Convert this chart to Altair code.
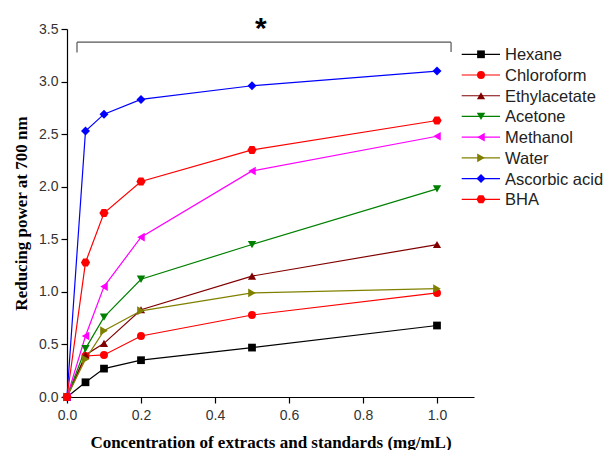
import altair as alt
import pandas as pd

conc = [0, 0.05, 0.1, 0.2, 0.5, 1.0]
names = ["Hexane", "Chloroform", "Ethylacetate", "Acetone", "Methanol", "Water", "Ascorbic acid", "BHA"]
hexane = [0, 0.14, 0.27, 0.35, 0.47, 0.68]
chloroform = [0, 0.39, 0.40, 0.58, 0.78, 0.99]
ethylacetate = [0, 0.40, 0.51, 0.83, 1.15, 1.45]
acetone = [0, 0.46, 0.76, 1.12, 1.45, 1.98]
methanol = [0, 0.58, 1.05, 1.52, 2.15, 2.48]
water = [0, 0.36, 0.63, 0.82, 0.99, 1.03]
ascorbic = [0, 2.53, 2.69, 2.83, 2.96, 3.10]
bha = [0, 1.28, 1.75, 2.05, 2.35, 2.63]
series = [hexane, chloroform, ethylacetate, acetone, methanol, water, ascorbic, bha]

colors = ["#000000", "#FF0000", "#800000", "#008000", "#FF00FF", "#808000", "#0000FF", "#FF0000"]
hexagon = "M-1,0L-0.5,-0.866L0.5,-0.866L1,0L0.5,0.866L-0.5,0.866Z"
shapes = ["square", "circle", "triangle-up", "triangle-down", "triangle-left", "triangle-right", "diamond", hexagon]

rows = []
for n, vals in zip(names, series):
    for i, (c, v) in enumerate(zip(conc, vals)):
        rows.append({"series": n, "conc": c, "value": v, "order": i})
df = pd.DataFrame(rows)

color_scale = alt.Scale(domain=names, range=colors)
shape_scale = alt.Scale(domain=names, range=shapes)
size_scale = alt.Scale(domain=names, range=[60, 85, 85, 85, 85, 85, 100, 85])

x_enc = alt.X("conc:Q", scale=alt.Scale(domain=[0, 1.1], nice=False),
              axis=alt.Axis(values=[0, 0.2, 0.4, 0.6, 0.8, 1.0], format=".1f",
                            title="Concentration of extracts and standards (mg/mL)",
                            titlePadding=12, labelPadding=5))
y_enc = alt.Y("value:Q", scale=alt.Scale(domain=[0, 3.5], nice=False),
              axis=alt.Axis(values=[0, 0.5, 1.0, 1.5, 2.0, 2.5, 3.0, 3.5], format=".1f",
                            title="Reducing power at 700 nm", titlePadding=8, labelPadding=3))

lines = alt.Chart(df).mark_line(strokeWidth=1.2, clip=False).encode(
    x=x_enc, y=y_enc, detail="series:N",
    color=alt.Color("series:N", scale=color_scale, legend=None),
    order="order:Q",
)
points = alt.Chart(df).mark_point(filled=True, opacity=1, clip=False).encode(
    x="conc:Q", y="value:Q",
    color=alt.Color("series:N", scale=color_scale, legend=None),
    shape=alt.Shape("series:N", scale=shape_scale, legend=None),
    size=alt.Size("series:N", scale=size_scale, legend=None),
)

br_x = [0.027, 0.027, 1.038]
br_x2 = [1.038, 0.027, 1.038]
br_y = [3.375, 3.276, 3.282]
br_y2 = [3.375, 3.375, 3.375]
br = pd.DataFrame({"x": br_x, "x2": br_x2, "y": br_y, "y2": br_y2})
bracket = alt.Chart(br).mark_rule(color="#555555", strokeWidth=1.2, clip=False).encode(
    x="x:Q", x2="x2:Q", y="y:Q", y2="y2:Q")

star = alt.Chart(pd.DataFrame({"x": [0.524], "y": [3.5], "t": ["*"]})).mark_text(
    fontSize=30, fontWeight="bold", font="Liberation Sans", baseline="middle", align="center",
    clip=False, color="#000000").encode(x="x:Q", y="y:Q", text="t:N")

main = alt.layer(lines, points, bracket, star)

leg_df = pd.DataFrame({"series": names})
leg_y = alt.Y("series:N", scale=alt.Scale(type="point", domain=names, range=[25.3, 170.3], padding=0), axis=None)
leg_rule = alt.Chart(leg_df).mark_rule(strokeWidth=1.2).encode(
    x=alt.value(394.7), x2=alt.value(433), y=leg_y,
    color=alt.Color("series:N", scale=color_scale, legend=None))
leg_pt = alt.Chart(leg_df).mark_point(filled=True, opacity=1).encode(
    x=alt.value(414), y=leg_y,
    color=alt.Color("series:N", scale=color_scale, legend=None),
    shape=alt.Shape("series:N", scale=shape_scale, legend=None),
    size=alt.Size("series:N", scale=size_scale, legend=None))
leg_txt = alt.Chart(leg_df).mark_text(align="left", baseline="middle", fontSize=16.5,
                                      font="Liberation Sans", color="#222222", dy=1).encode(
    x=alt.value(438), y=leg_y, text="series:N")
legend = alt.layer(leg_rule, leg_pt, leg_txt)

chart = alt.layer(main, legend).resolve_scale(y="independent").properties(
    width=407, height=368,
    autosize=alt.AutoSizeParams(type="none"),
    padding={"left": 67, "top": 29, "right": 132, "bottom": 53},
).configure_view(stroke=None).configure_axis(
    grid=False, domainColor="#000000", tickColor="#000000", domainWidth=1.2, tickWidth=1.2,
    tickSize=6, labelFont="Liberation Sans", labelFontSize=14, labelColor="#333333",
    labelFlush=False,
    titleFont="Liberation Serif", titleFontSize=17, titleFontWeight="bold", titleColor="#000000",
)

chart.save("out.html", embed_options={"renderer": "svg", "actions": False})
